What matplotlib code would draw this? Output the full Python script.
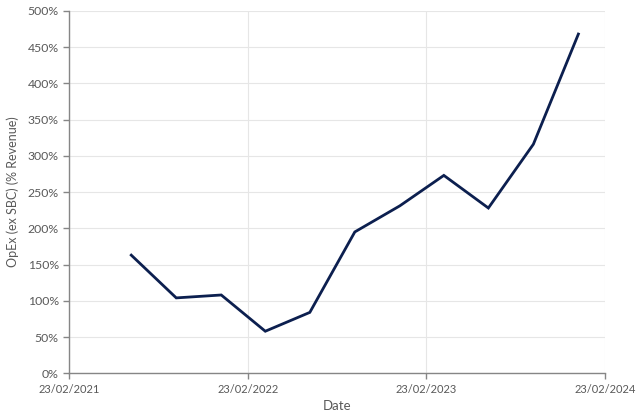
import matplotlib
matplotlib.use("Agg")
import matplotlib.pyplot as plt
import matplotlib.dates as mdates
import numpy as np
from matplotlib.ticker import FuncFormatter, MultipleLocator

dates = ["2021-06-30", "2021-09-30", "2021-12-31", "2022-03-31", "2022-06-30",
         "2022-09-30", "2022-12-31", "2023-03-31", "2023-06-30", "2023-09-30",
         "2023-12-31"]
opex_pct = [163, 104, 108, 58, 84, 195, 231, 273, 228, 316, 468]
xtick_dates = ["2021-02-23", "2022-02-23", "2023-02-23", "2024-02-23"]

plt.rcParams['font.family'] = ['Lato', 'DejaVu Sans']

fig = plt.figure(figsize=(6.4, 4.18), dpi=100)
ax = fig.add_axes([0.108, 0.107, 0.837, 0.867])

x = np.array(dates, dtype="datetime64[D]")
ax.plot(x, opex_pct, color="#0c1f4f", linewidth=2.0, solid_joinstyle="miter")

xt = np.array(xtick_dates, dtype="datetime64[D]")
ax.set_xlim(xt[0], xt[-1])
ax.set_xticks(xt)
ax.xaxis.set_major_formatter(mdates.DateFormatter("%d/%m/%Y"))
ax.set_ylim(0, 500)
ax.yaxis.set_major_locator(MultipleLocator(50))
ax.yaxis.set_major_formatter(FuncFormatter(lambda v, p: f"{int(v)}%"))

ax.grid(True, color="#e6e6e6", linewidth=0.8)
ax.set_axisbelow(True)
for s in ["top", "right"]:
    ax.spines[s].set_visible(False)
for s in ["left", "bottom"]:
    ax.spines[s].set_color("#868686")
    ax.spines[s].set_linewidth(1.0)
ax.tick_params(axis="both", colors="#868686", labelcolor="#595959",
               length=4, width=1.0)
ax.tick_params(axis="x", labelsize=8)
ax.tick_params(axis="y", labelsize=8.8)

ax.set_xlabel("Date", color="#595959", fontsize=9.5, labelpad=4)
ax.set_ylabel("OpEx (ex SBC) (% Revenue)", color="#595959", fontsize=9, labelpad=6)

fig.savefig("out.png", dpi=100)
